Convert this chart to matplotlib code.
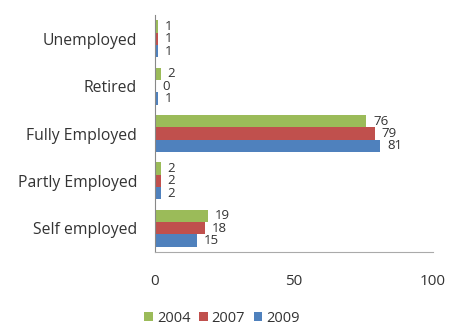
import numpy as np
import matplotlib
matplotlib.use("Agg")
import matplotlib.pyplot as plt

plt.rcParams['font.family'] = ['Open Sans', 'DejaVu Sans']

categories = ['Unemployed', 'Retired', 'Fully Employed', 'Partly Employed', 'Self employed']
years = ['2004', '2007', '2009']
values_2004 = [1, 2, 76, 2, 19]
values_2007 = [1, 0, 79, 2, 18]
values_2009 = [1, 1, 81, 2, 15]
colors = ['#9BBB59', '#C0504D', '#4F81BD']
text_color = '#333333'

fig = plt.figure(figsize=(4.49, 3.26), dpi=100)
ax = fig.add_axes([155 / 449, 1 - 252 / 326, 278 / 449, 237 / 326])

y = np.arange(len(categories))
h = 0.26
series = [values_2004, values_2007, values_2009]
for i, (vals, c, yr) in enumerate(zip(series, colors, years)):
    pos = y + (i - 1) * h
    ax.barh(pos, vals, height=h, color=c, label=yr)
    # value label just past the end of each bar
    for p, v in zip(pos, vals):
        ax.annotate(str(v), xy=(v, p), xytext=(5, 0), textcoords='offset points',
                    va='center', ha='left', fontsize=9.5, color=text_color)

ax.set_xlim(0, 100)
ax.set_ylim(len(categories) - 0.5, -0.5)
ax.set_yticks(y)
ax.set_yticklabels(categories, fontsize=11.3, color=text_color)
ax.set_xticks([0, 50, 100])
ax.set_xticklabels(['0', '50', '100'], fontsize=11, color=text_color)
ax.tick_params(axis='both', length=0)
ax.tick_params(axis='x', pad=16)
ax.tick_params(axis='y', pad=13)
for s in ['top', 'right']:
    ax.spines[s].set_visible(False)
ax.spines['left'].set_color('#888888')
ax.spines['bottom'].set_color('#aaaaaa')

fig.legend(loc='center', bbox_to_anchor=(222 / 449, 1 - 318 / 326), ncol=3, frameon=False,
           fontsize=10.5, handlelength=0.6, handleheight=0.6, handletextpad=0.25, columnspacing=0.6,
           labelcolor=text_color, borderpad=0)

fig.savefig('out.png', dpi=100)
